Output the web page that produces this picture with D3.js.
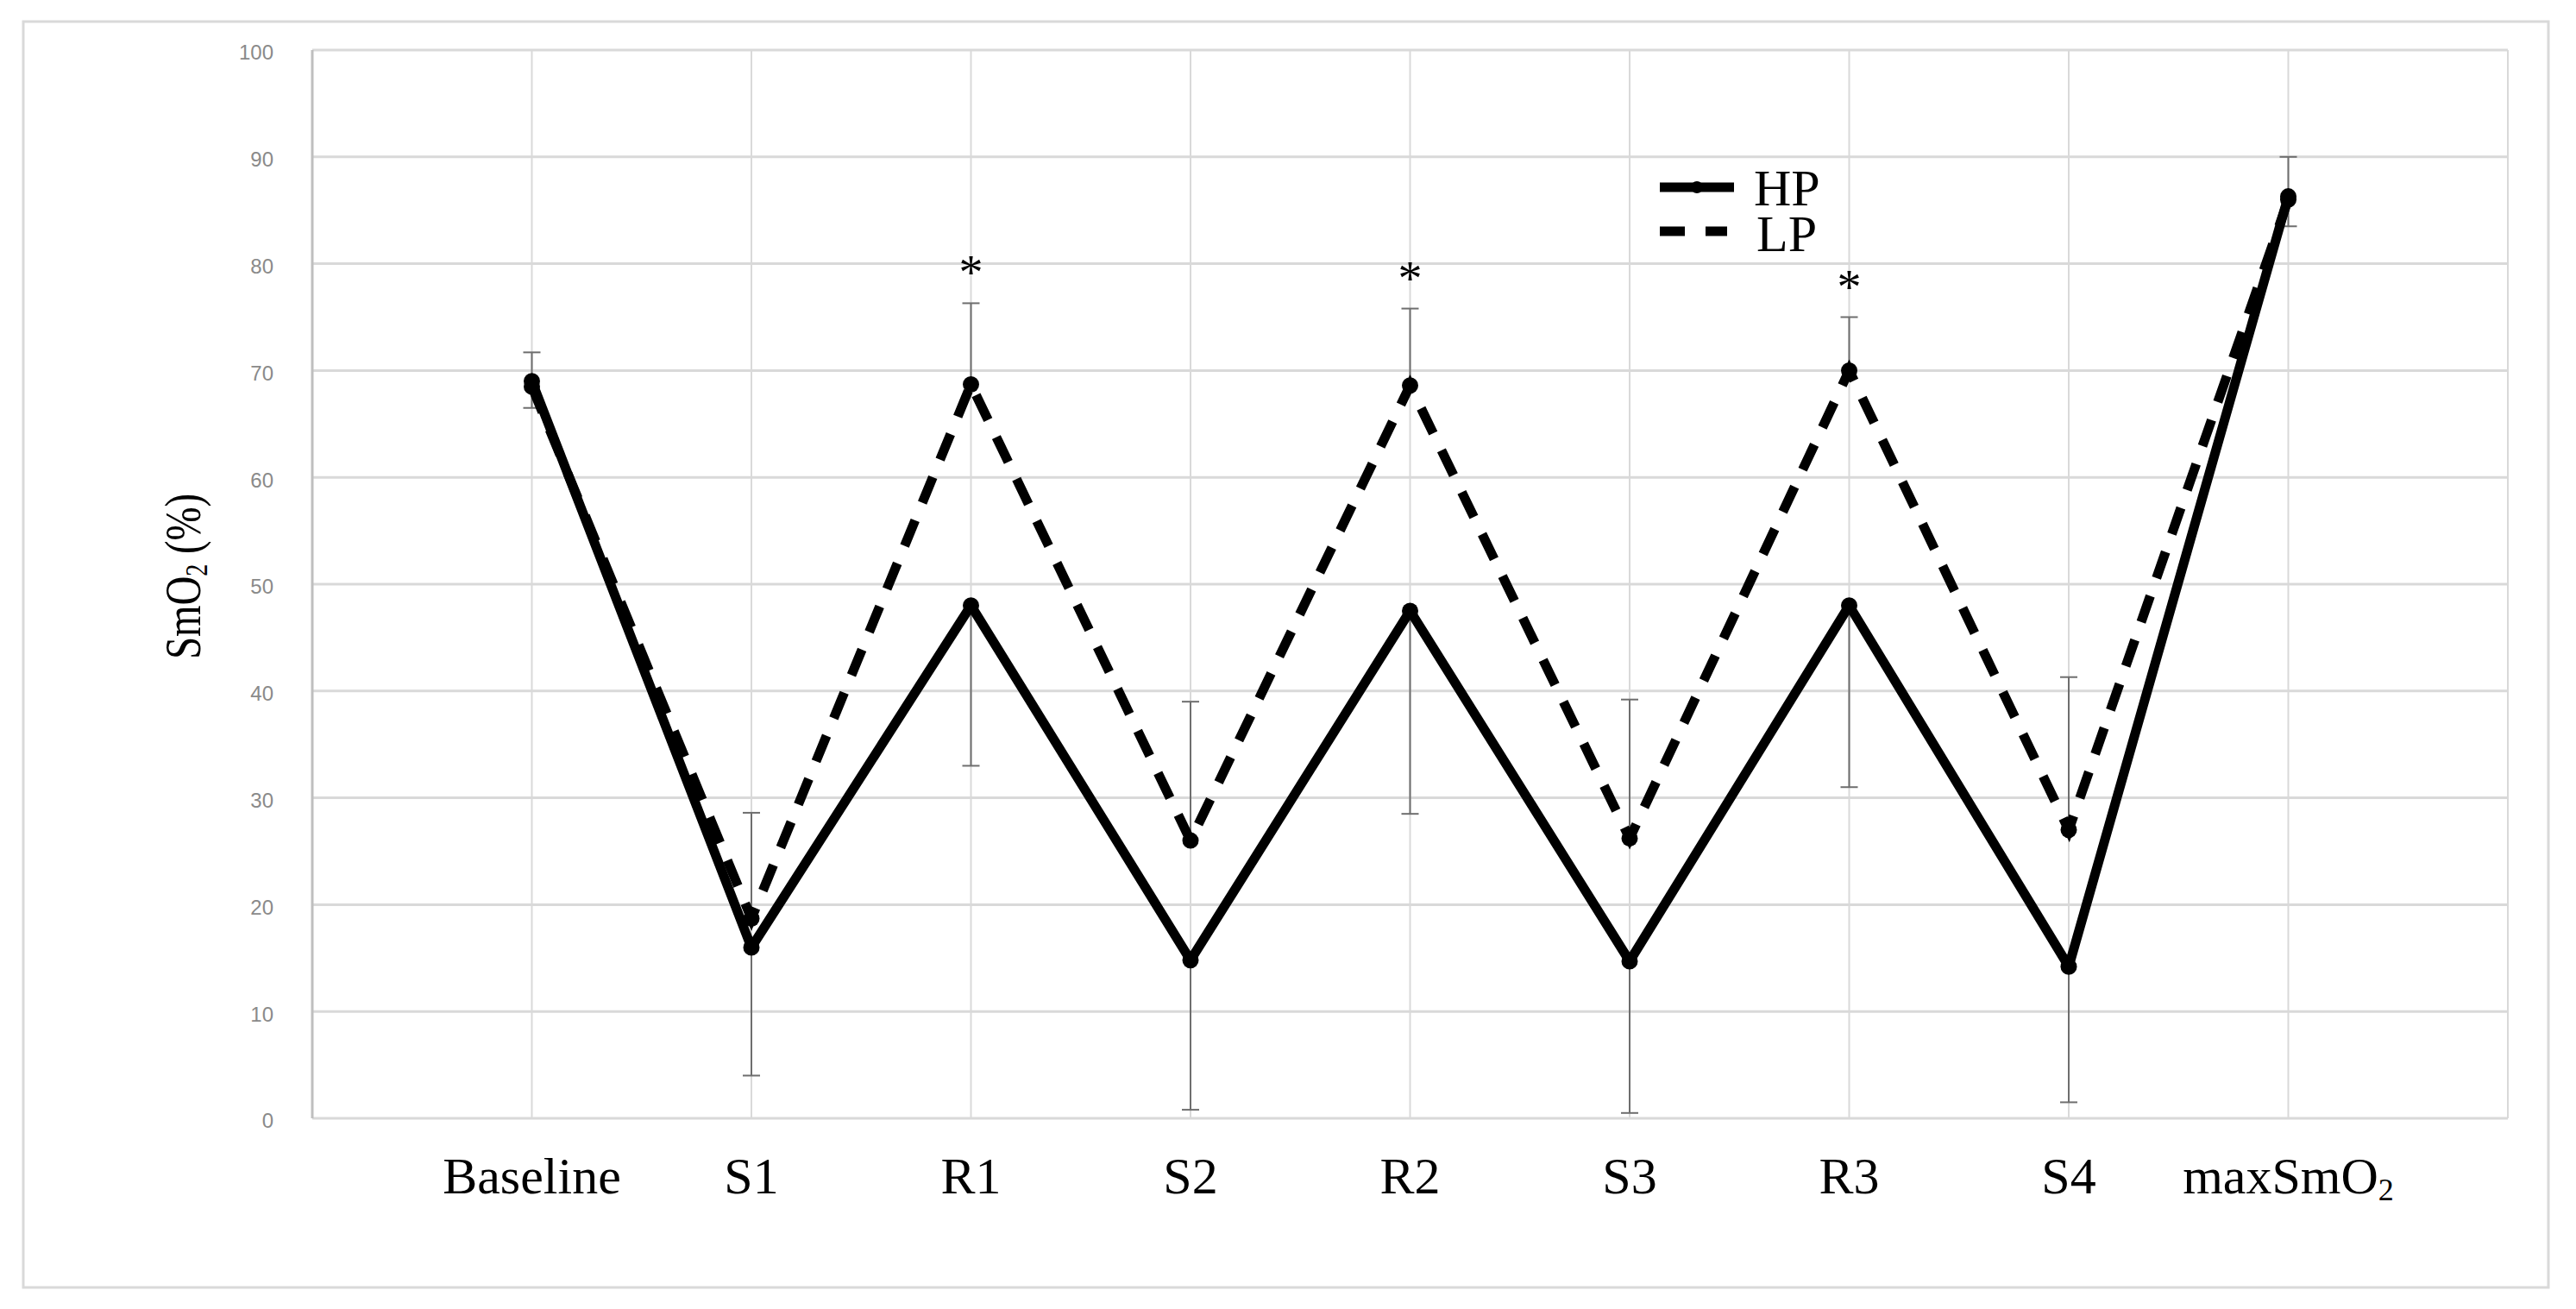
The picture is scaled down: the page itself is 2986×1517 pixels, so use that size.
<!DOCTYPE html>
<html>
<head>
<meta charset="utf-8">
<script src="https://cdn.jsdelivr.net/npm/d3@7"></script>
<style>
  html, body { margin: 0; padding: 0; background: #fff; }
  svg { display: block; }
</style>
</head>
<body>
<div id="chart"></div>
<script>
// categories along the x axis
const categories = ["Baseline", "S1", "R1", "S2", "R2", "S3", "R3", "S4", "maxSmO2"];

// mean SmO2 (%) per series
const hpValues = [69.0, 16.0, 48.0, 14.8, 47.5, 14.7, 48.0, 14.2, 86.3];
const lpValues = [68.5, 18.7, 68.7, 26.0, 68.6, 26.2, 70.0, 27.0, 86.0];

// SD: HP drawn downward, LP drawn upward
const hpSD = [2.5, 12.0, 15.0, 14.0, 19.0, 14.2, 17.0, 12.7, 2.8];
const lpSD = [3.2, 9.9, 7.6, 13.0, 7.2, 13.0, 5.0, 14.3, 4.0];

// significant difference markers
const significant = [false, false, true, false, true, false, true, false, false];

const yTicks = [0, 10, 20, 30, 40, 50, 60, 70, 80, 90, 100];
const seriesNames = ["HP", "LP"];

const width = 2986, height = 1517;
const plot = { left: 362, right: 2907, top: 58, bottom: 1296 };
const serif = "'Liberation Serif', 'Times New Roman', serif";
const sans = "'Liberation Sans', Arial, sans-serif";

const svg = d3.select("#chart").append("svg")
  .attr("width", width)
  .attr("height", height)
  .attr("viewBox", [0, 0, width, height].join(" "));

// outer frame
svg.append("rect")
  .attr("x", 27).attr("y", 25)
  .attr("width", 2927).attr("height", 1467)
  .attr("fill", "#fff")
  .attr("stroke", "#d9d9d9")
  .attr("stroke-width", 3);

// scales: categories sit at index 1..n inside a 0..n+1 domain
const xScale = d3.scaleLinear()
  .domain([0, categories.length + 1])
  .range([plot.left, plot.right]);
const yScale = d3.scaleLinear()
  .domain([0, 100])
  .range([plot.bottom, plot.top]);

const xIdx = d3.range(0, categories.length + 2);

// horizontal grid
svg.append("g").selectAll("line").data(yTicks).enter()
  .append("line")
  .attr("x1", plot.left).attr("x2", plot.right)
  .attr("y1", d => yScale(d)).attr("y2", d => yScale(d))
  .attr("stroke", "#d9d9d9")
  .attr("stroke-width", 3);

// vertical grid
svg.append("g").selectAll("line").data(xIdx).enter()
  .append("line")
  .attr("x1", d => xScale(d)).attr("x2", d => xScale(d))
  .attr("y1", plot.top).attr("y2", plot.bottom)
  .attr("stroke", d => d === 0 ? "#bfbfbf" : "#d9d9d9")
  .attr("stroke-width", d => d === 0 ? 3 : 2);

// y axis labels
const yAxis = svg.append("g")
  .attr("transform", "translate(" + plot.left + ",0)")
  .call(d3.axisLeft(yScale).tickValues(yTicks).tickSize(0).tickPadding(45));
yAxis.select(".domain").remove();
yAxis.selectAll("text")
  .attr("font-family", sans)
  .attr("font-size", "24px")
  .attr("fill", "#8a8a8a")
  .attr("dy", "0.45em");

// y axis title with subscript (condensed like the original)
const yTitle = svg.append("text")
  .attr("transform", "translate(232,668) rotate(-90) scale(0.78,1)")
  .attr("text-anchor", "middle")
  .attr("font-family", serif)
  .attr("font-size", "60px")
  .attr("fill", "#000");
yTitle.append("tspan").text("SmO");
yTitle.append("tspan").attr("font-size", "36px").attr("dy", 8).text("2");
yTitle.append("tspan").attr("dy", -8).text(" (%)");

// x axis labels
const xAxis = svg.append("g")
  .attr("transform", "translate(0,1383)");
categories.forEach((c, i) => {
  const t = xAxis.append("text")
    .attr("x", xScale(i + 1))
    .attr("text-anchor", "middle")
    .attr("font-family", serif)
    .attr("font-size", "60px")
    .attr("fill", "#000");
  if (c.endsWith("O2")) {
    t.append("tspan").text(c.slice(0, -1));
    t.append("tspan").attr("font-size", "36px").attr("dy", 8).text("2");
  } else {
    t.text(c);
  }
});

// error bars
const capW = 10;
function errorBars(values, sd, dir) {
  const g = svg.append("g").attr("stroke", "#6e6e6e").attr("stroke-width", 2);
  values.forEach((v, i) => {
    const x = xScale(i + 1);
    const end = v + dir * sd[i];
    g.append("line")
      .attr("x1", x).attr("x2", x)
      .attr("y1", yScale(v)).attr("y2", yScale(end));
    g.append("line")
      .attr("x1", x - capW).attr("x2", x + capW)
      .attr("y1", yScale(end)).attr("y2", yScale(end));
  });
}
errorBars(hpValues, hpSD, -1);
errorBars(lpValues, lpSD, 1);

// lines
const line = d3.line()
  .x((d, i) => xScale(i + 1))
  .y(d => yScale(d));

svg.append("path")
  .attr("d", line(lpValues))
  .attr("fill", "none")
  .attr("stroke", "#000")
  .attr("stroke-width", 11)
  .attr("stroke-dasharray", "32,22");

svg.append("path")
  .attr("d", line(hpValues))
  .attr("fill", "none")
  .attr("stroke", "#000")
  .attr("stroke-width", 11)
  .attr("stroke-linejoin", "round");

// markers
[lpValues, hpValues].forEach(vals => {
  svg.append("g").selectAll("circle").data(vals).enter()
    .append("circle")
    .attr("cx", (d, i) => xScale(i + 1))
    .attr("cy", d => yScale(d))
    .attr("r", 9.5)
    .attr("fill", "#000");
});

// asterisks above significant points
svg.append("g").selectAll("text")
  .data(lpValues.map((v, i) => ({ v: v + lpSD[i], i: i })).filter(d => significant[d.i]))
  .enter().append("text")
  .attr("x", d => xScale(d.i + 1))
  .attr("y", d => yScale(d.v) - 16)
  .attr("text-anchor", "middle")
  .attr("font-family", serif)
  .attr("font-size", "56px")
  .attr("fill", "#000")
  .text("*");

// legend
const legend = svg.append("g");
legend.append("line")
  .attr("x1", 1924).attr("x2", 2010)
  .attr("y1", 217).attr("y2", 217)
  .attr("stroke", "#000").attr("stroke-width", 11);
legend.append("circle")
  .attr("cx", 1967).attr("cy", 217).attr("r", 7).attr("fill", "#000");
legend.append("line")
  .attr("x1", 1924).attr("x2", 2002)
  .attr("y1", 268).attr("y2", 268)
  .attr("stroke", "#000").attr("stroke-width", 11)
  .attr("stroke-dasharray", "29,24");
const legendText = legend.append("text")
  .attr("font-family", serif).attr("font-size", "60px");
legendText.selectAll("tspan").data(seriesNames).enter()
  .append("tspan")
  .attr("x", (d, i) => 2033 + i * 3)
  .attr("y", (d, i) => 238 + i * 53)
  .text(d => d);
</script>
</body>
</html>
